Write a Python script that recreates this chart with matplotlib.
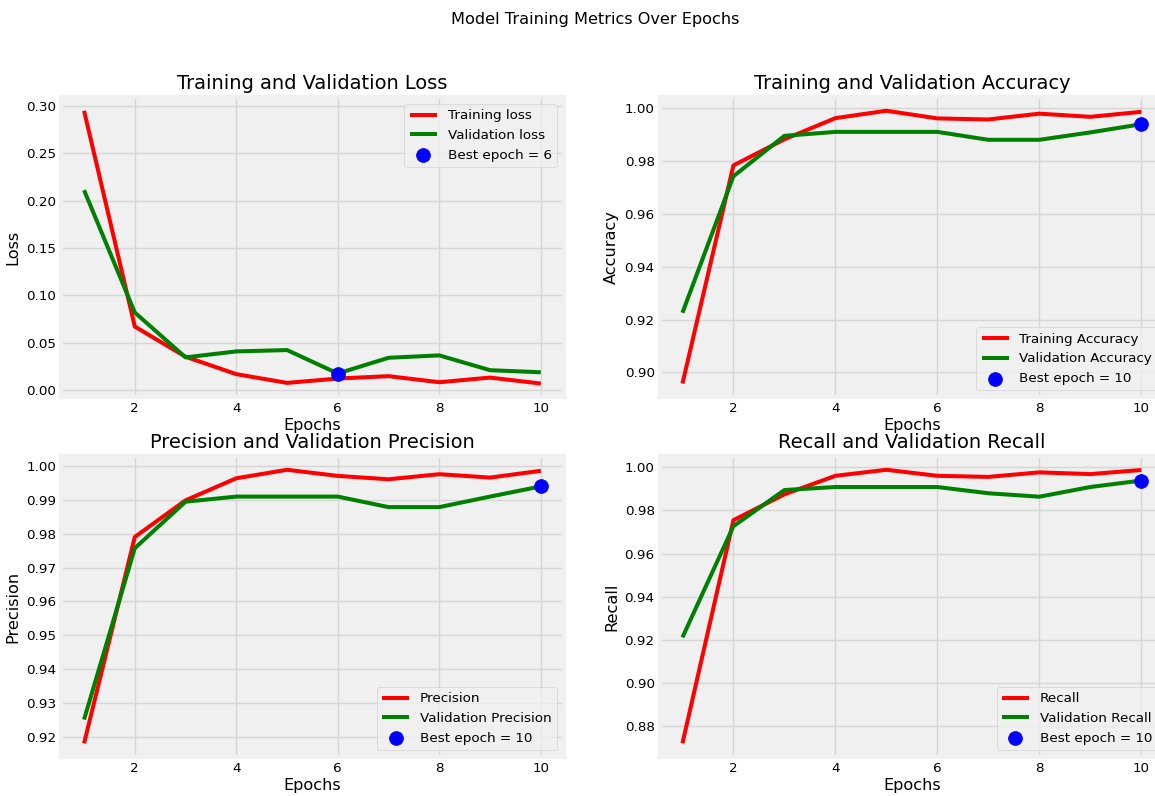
import numpy as np
import matplotlib
matplotlib.use("Agg")
import matplotlib.pyplot as plt

# per-epoch history
epochs = [1, 2, 3, 4, 5, 6, 7, 8, 9, 10]

train_loss = [0.2947, 0.0672, 0.0354, 0.0170, 0.0078, 0.0124, 0.0149, 0.0085, 0.0134, 0.0071]
val_loss = [0.2110, 0.0820, 0.0347, 0.0410, 0.0424, 0.0177, 0.0343, 0.0368, 0.0212, 0.0190]

train_acc = [0.8958, 0.9784, 0.9883, 0.9963, 0.9991, 0.9962, 0.9958, 0.9980, 0.9968, 0.9987]
val_acc = [0.9226, 0.9743, 0.9896, 0.9911, 0.9911, 0.9911, 0.9881, 0.9881, 0.9909, 0.9940]

train_prec = [0.9182, 0.9790, 0.9898, 0.9963, 0.9988, 0.9970, 0.9960, 0.9975, 0.9965, 0.9985]
val_prec = [0.9252, 0.9757, 0.9894, 0.9909, 0.9909, 0.9909, 0.9878, 0.9878, 0.9909, 0.9939]

train_rec = [0.8719, 0.9755, 0.9875, 0.9961, 0.9989, 0.9961, 0.9956, 0.9977, 0.9969, 0.9988]
val_rec = [0.9211, 0.9727, 0.9895, 0.9909, 0.9909, 0.9909, 0.9880, 0.9864, 0.9909, 0.9939]

plt.style.use('fivethirtyeight')
plt.rcParams['font.size'] = 9.7
plt.rcParams['lines.linewidth'] = 2.9
plt.rcParams['grid.color'] = '#d6d6d6'

fig = plt.figure(figsize=(11.55, 7.96), dpi=100, facecolor='white')
fig.suptitle('Model Training Metrics Over Epochs', x=0.515, y=0.985, fontsize='large')

panels = [
    # rect, train, val, best-fn, train label, val label, title, ylabel, legend loc
    ([0.053, 0.501, 0.435, 0.377], train_loss, val_loss, np.argmin,
     'Training loss', 'Validation loss', 'Training and Validation Loss', 'Loss', 'upper right'),
    ([0.571, 0.501, 0.437, 0.377], train_acc, val_acc, np.argmax,
     'Training Accuracy', 'Validation Accuracy', 'Training and Validation Accuracy', 'Accuracy', 'lower right'),
    ([0.053, 0.049, 0.435, 0.378], train_prec, val_prec, np.argmax,
     'Precision', 'Validation Precision', 'Precision and Validation Precision', 'Precision', 'lower right'),
    ([0.571, 0.049, 0.437, 0.378], train_rec, val_rec, np.argmax,
     'Recall', 'Validation Recall', 'Recall and Validation Recall', 'Recall', 'lower right'),
]

for rect, tr, va, best_fn, tr_lab, va_lab, title, ylab, loc in panels:
    ax = fig.add_axes(rect)
    best = int(best_fn(va))
    ax.plot(epochs, tr, 'r', label=tr_lab)
    ax.plot(epochs, va, 'g', label=va_lab)
    ax.scatter(epochs[best], va[best], s=100, c='blue', zorder=3,
               label=f'Best epoch = {epochs[best]}')
    ax.set_title(title, fontsize='x-large', pad=6)
    ax.set_xlabel('Epochs', fontsize='large', labelpad=2)
    ax.set_ylabel(ylab, fontsize='large', labelpad=4)
    ax.legend(loc=loc)

fig.savefig('out.png', dpi=100, facecolor='white')
